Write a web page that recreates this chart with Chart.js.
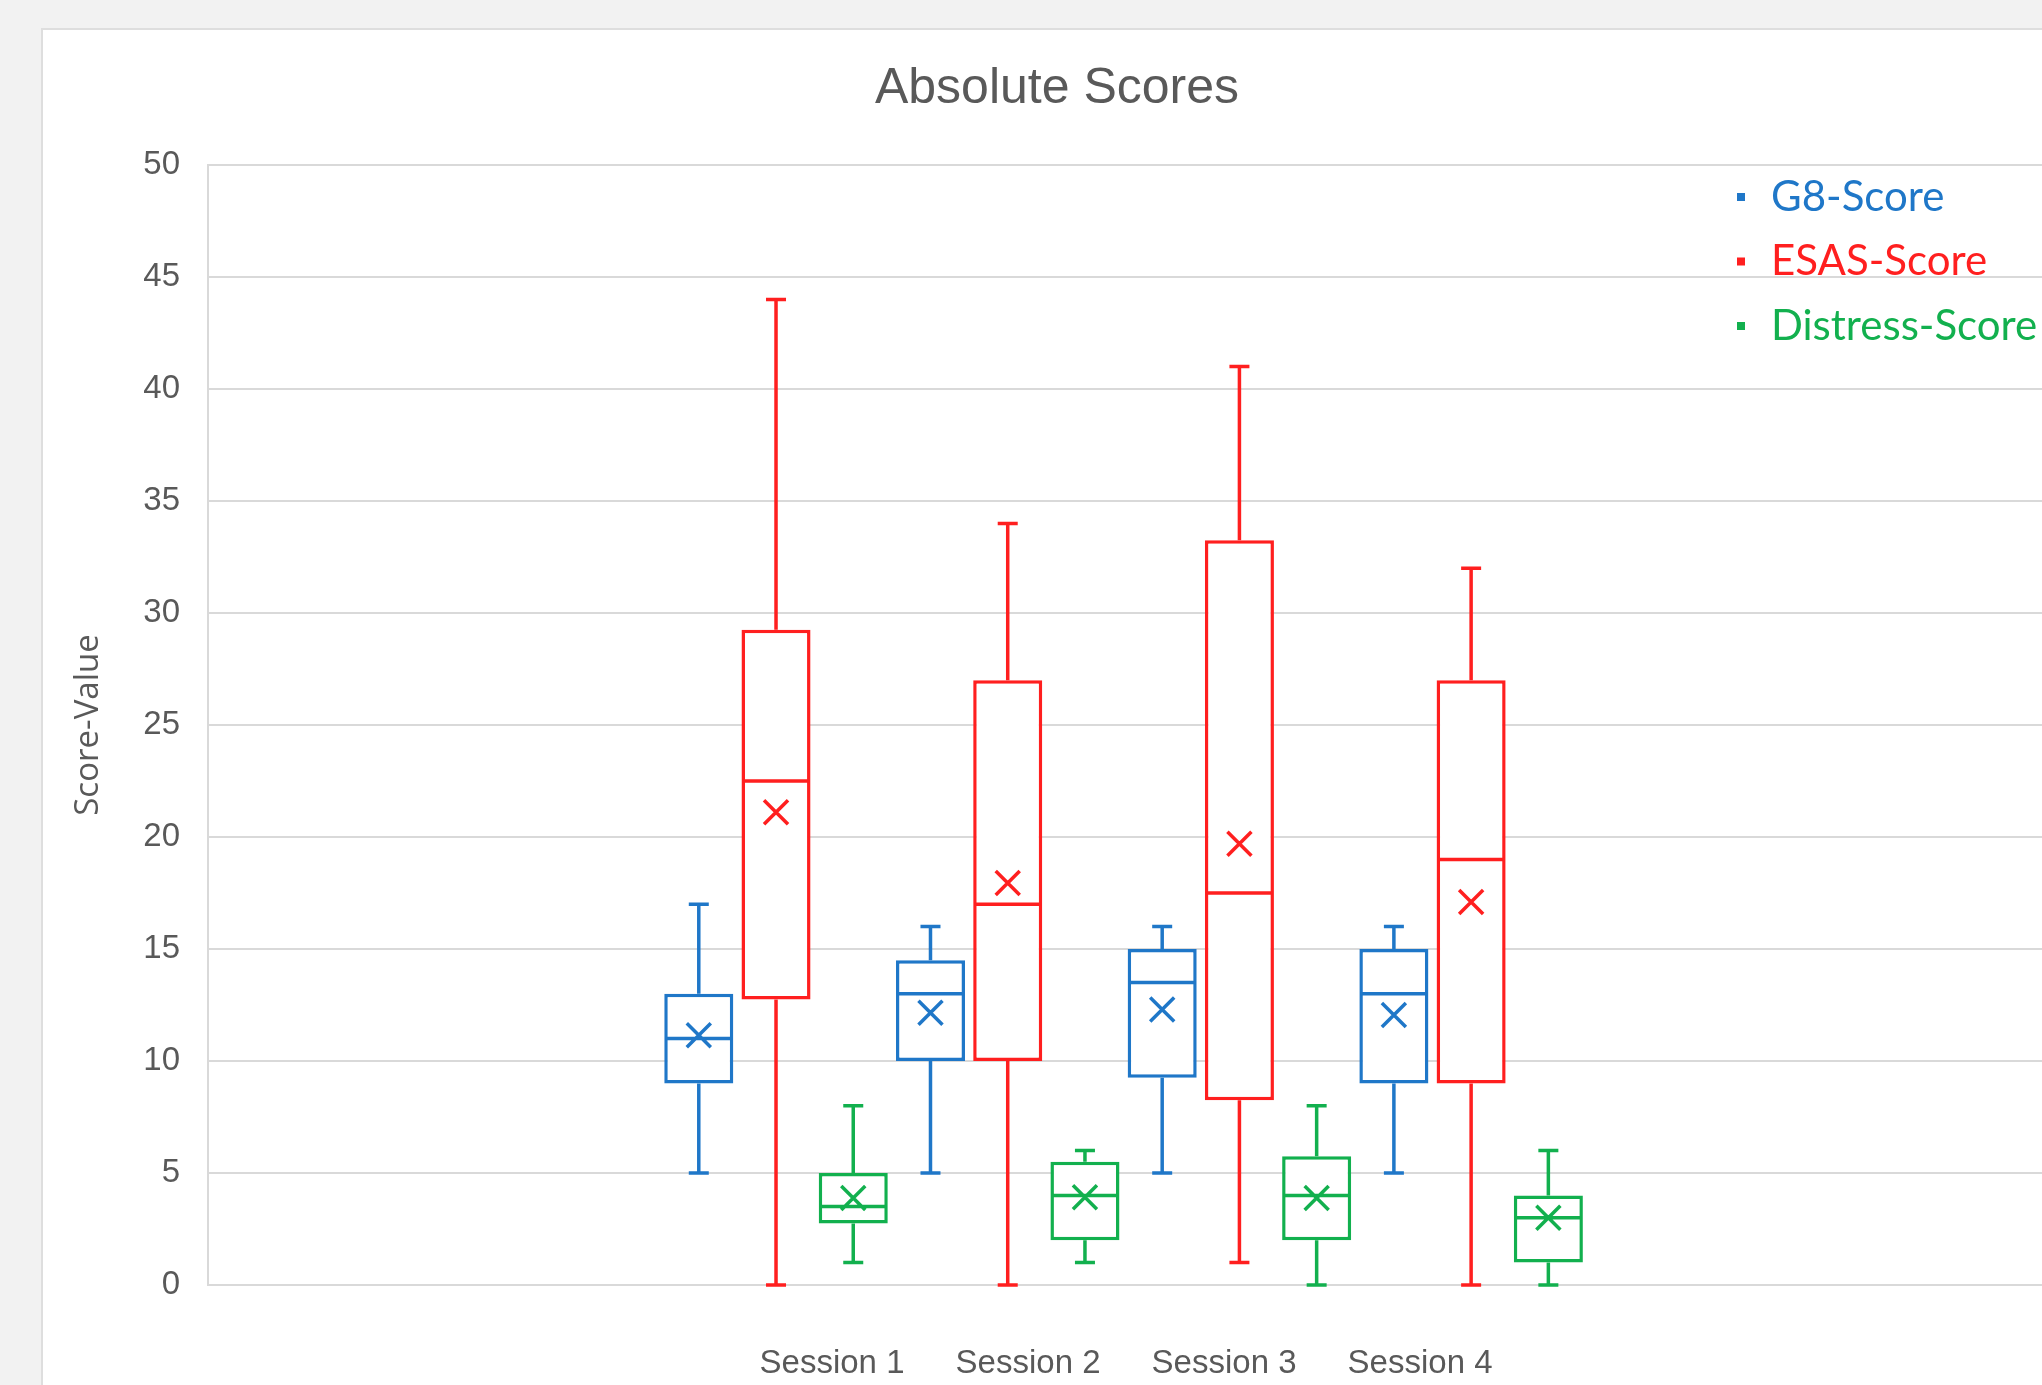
<!DOCTYPE html>
<html>
<head>
<meta charset="utf-8">
<title>Absolute Scores</title>
<script src="https://cdn.jsdelivr.net/npm/chart.js@4.4.1/dist/chart.umd.min.js"></script>
<style>
    html, body { margin: 0; padding: 0; width: 2042px; height: 1385px; overflow: hidden; background: #f2f2f2; }
    #panel { position: absolute; left: 41px; top: 28px; width: 2028px; height: 1357px;
             background: #fff; border-left: 2px solid #dedede; border-top: 2px solid #dedede; }
    canvas { display: block; }
</style>
</head>
<body>
<div id="panel"><canvas id="boxChart" width="2028" height="1355"></canvas></div>
<script>
/* ── Data ────────────────────────────────────────────────────────────────── */
const sessions  = ['Session 1', 'Session 2', 'Session 3', 'Session 4'];
const sessionNo = [1, 2, 3, 4];
const yTicks    = [0, 5, 10, 15, 20, 25, 30, 35, 40, 45, 50];

const g8Min    = [5, 5, 5, 5];
const g8Q1     = [9, 10, 9.25, 9];
const g8Median = [11, 13, 13.5, 13];
const g8Q3     = [13, 14.5, 15, 15];
const g8Max    = [17, 16, 16, 16];
const g8Mean   = [11.15, 12.15, 12.3, 12.05];

const esasMin    = [0, 0, 1, 0];
const esasQ1     = [12.75, 10, 8.25, 9];
const esasMedian = [22.5, 17, 17.5, 19];
const esasQ3     = [29.25, 27, 33.25, 27];
const esasMax    = [44, 34, 41, 32];
const esasMean   = [21.1, 17.95, 19.7, 17.1];

const distMin    = [1, 1, 0, 0];
const distQ1     = [2.75, 2, 2, 1];
const distMedian = [3.5, 4, 4, 3];
const distQ3     = [5, 5.5, 5.75, 4];
const distMax    = [8, 6, 8, 6];
const distMean   = [3.88, 3.92, 3.88, 3.0];

const BLUE  = '#1f77c8';
const RED   = '#ff1f1f';
const GREEN = '#12b04e';
const TEXT  = '#595959';
const GRID  = '#d9d9d9';
const LINE  = 3.5;

function boxDataset(label, colour, q1, q3, stats) {
    return {
        label: label,
        data: sessionNo.map((s, i) => ({ x: s, y: [q1[i], q3[i]] })),
        backgroundColor: '#ffffff',
        borderColor: colour,
        borderWidth: LINE,
        borderSkipped: false,
        categoryPercentage: 1.0,
        barPercentage: 0.894,
        stats: stats
    };
}

// whiskers, caps, median line and mean cross on top of each floating bar
const boxDetails = {
    id: 'boxDetails',
    afterDatasetsDraw(chart) {
        const ctx = chart.ctx;
        const y = chart.scales.y;
        const CAP = 10, CROSS = 12;
        chart.data.datasets.forEach((ds, di) => {
            const st = ds.stats;
            chart.getDatasetMeta(di).data.forEach((bar, i) => {
                const cx = bar.x;
                const half = bar.width / 2;
                const pMin = y.getPixelForValue(st.min[i]);
                const pMax = y.getPixelForValue(st.max[i]);
                const pQ1  = y.getPixelForValue(st.q1[i]);
                const pQ3  = y.getPixelForValue(st.q3[i]);
                const pMed = y.getPixelForValue(st.median[i]);
                const pMean = y.getPixelForValue(st.mean[i]);

                ctx.save();
                ctx.strokeStyle = ds.borderColor;
                ctx.lineWidth = LINE;
                ctx.beginPath();
                if (st.max[i] > st.q3[i]) {
                    ctx.moveTo(cx, pQ3); ctx.lineTo(cx, pMax);
                    ctx.moveTo(cx - CAP, pMax); ctx.lineTo(cx + CAP, pMax);
                }
                if (st.min[i] < st.q1[i]) {
                    ctx.moveTo(cx, pQ1); ctx.lineTo(cx, pMin);
                    ctx.moveTo(cx - CAP, pMin); ctx.lineTo(cx + CAP, pMin);
                }
                ctx.moveTo(cx - half + 1.5, pMed); ctx.lineTo(cx + half - 1.5, pMed);
                ctx.moveTo(cx - CROSS, pMean - CROSS); ctx.lineTo(cx + CROSS, pMean + CROSS);
                ctx.moveTo(cx + CROSS, pMean - CROSS); ctx.lineTo(cx - CROSS, pMean + CROSS);
                ctx.stroke();
                ctx.restore();
            });
        });
    }
};

// legend drawn inside the plot area, top right
const innerLegend = {
    id: 'innerLegend',
    afterDraw(chart) {
        const ctx = chart.ctx;
        ctx.save();
        ctx.font = '42px Lato, "Open Sans", sans-serif';
        ctx.textBaseline = 'middle';
        ctx.textAlign = 'left';
        chart.data.datasets.forEach((ds, i) => {
            const cy = 167 + i * 64.5;
            ctx.fillStyle = ds.borderColor;
            ctx.fillRect(1694, cy - 4, 8, 8);
            ctx.fillText(ds.label, 1728, cy);
        });
        ctx.restore();
    }
};

const ctx = document.getElementById('boxChart');

new Chart(ctx, {
    type: 'bar',
    data: {
        datasets: [
            boxDataset('G8-Score', BLUE, g8Q1, g8Q3,
                { min: g8Min, q1: g8Q1, median: g8Median, q3: g8Q3, max: g8Max, mean: g8Mean }),
            boxDataset('ESAS-Score', RED, esasQ1, esasQ3,
                { min: esasMin, q1: esasQ1, median: esasMedian, q3: esasQ3, max: esasMax, mean: esasMean }),
            boxDataset('Distress-Score', GREEN, distQ1, distQ3,
                { min: distMin, q1: distQ1, median: distMedian, q3: distQ3, max: distMax, mean: distMean })
        ]
    },
    plugins: [boxDetails, innerLegend],
    options: {
        responsive: false,
        animation: false,
        devicePixelRatio: 1,
        layout: { padding: 0 },
        plugins: {
            legend: { display: false },
            tooltip: { enabled: false },
            title: {
                display: true,
                text: 'Absolute Scores',
                color: TEXT,
                font: { family: '"Liberation Sans", Arial, sans-serif', size: 50, weight: 'normal' },
                padding: { top: 29, bottom: 46 }
            }
        },
        scales: {
            x: {
                type: 'linear',
                display: false,
                offset: false,
                min: -1.4515,
                max: 6.589,
                grid: { display: false, offset: false },
                ticks: { stepSize: 1, includeBounds: false }
            },
            x2: {
                type: 'linear',
                position: 'bottom',
                offset: false,
                min: -2.1837,
                max: 7.321,
                grid: { display: false, drawTicks: false, offset: false },
                border: { display: false },
                ticks: {
                    stepSize: 1,
                    includeBounds: false,
                    autoSkip: false,
                    maxRotation: 0,
                    padding: 59,
                    color: TEXT,
                    font: { family: '"Liberation Sans", Arial, sans-serif', size: 33 },
                    callback: v => (Number.isInteger(v) && v >= 1 && v <= sessions.length) ? sessions[v - 1] : ''
                },
                afterFit: scale => { scale.height = 100; }
            },
            y: {
                min: 0,
                max: 50,
                grid: { color: GRID, lineWidth: 2, drawTicks: false },
                border: { display: true, color: GRID, width: 2 },
                afterBuildTicks: scale => { scale.ticks = yTicks.map(v => ({ value: v })); },
                ticks: {
                    padding: 28,
                    color: TEXT,
                    font: { family: '"Liberation Sans", Arial, sans-serif', size: 33 }
                },
                title: {
                    display: true,
                    text: 'Score-Value',
                    color: TEXT,
                    font: { family: '"Open Sans", sans-serif', size: 33 },
                    padding: { top: 26, bottom: 0 }
                },
                afterFit: scale => { scale.width = 165; }
            }
        }
    }
});
</script>
</body>
</html>
